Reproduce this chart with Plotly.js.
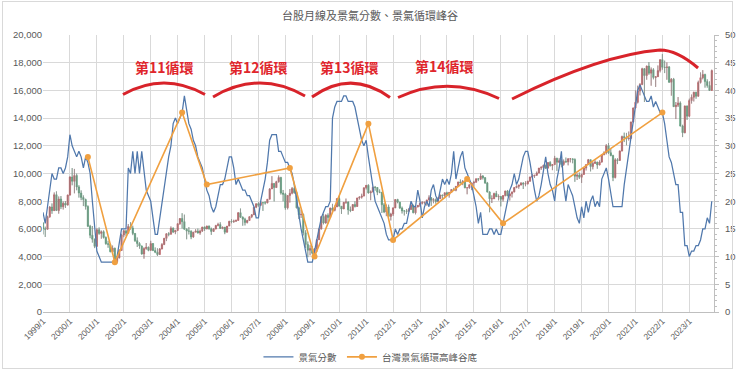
<!DOCTYPE html>
<html><head><meta charset="utf-8">
<script src="https://cdn.plot.ly/plotly-3.0.1.min.js"></script>
<style>
html,body{margin:0;padding:0;background:#fff;}
#wrap{position:relative;width:740px;height:371px;}
#chart{width:740px;height:371px;}
#frame{position:absolute;left:2px;top:1px;width:729px;height:366px;border:1px solid #d9d9d9;pointer-events:none;}
</style>
</head><body><div id="wrap"><div id="chart"></div><div id="frame"></div></div>
<script>
// ---- categories (monthly, 1999/1 .. 2023/11) ----
const firstYear = 1999, monthCount = 299;
const months = [];
for (let i = 0; i < monthCount; i++) months.push((firstYear + Math.floor(i / 12)) + '/' + (i % 12 + 1));

const tickLabels = ['1999/1','2000/1','2001/1','2002/1','2003/1','2004/1','2005/1','2006/1','2007/1','2008/1','2009/1','2010/1','2011/1','2012/1','2013/1','2014/1','2015/1','2016/1','2017/1','2018/1','2019/1','2020/1','2021/1','2022/1','2023/1'];

// ---- TAIEX monthly OHLC ----
const taiexOpen = [
6420,5999,5975,6881,7581,7316,8467,7326,8157,7598,7854,7720,
8448,9744,9435,9854,9031,8588,8265,8114,7616,6185,5544,5256,
4739,5936,5674,5797,5381,4935,4883,4352,4610,3636,3903,4441,
5551,5871,5686,6167,6065,5675,5153,4941,4764,4191,4579,4680,
4452,4941,4432,4321,4148,4555,4872,5318,5650,5611,6045,5772,
5890,6375,6750,6522,5977,5840,5839,5420,5765,5845,5706,5844,
6140,5994,6207,6006,5819,5988,6241,6312,6033,6118,5764,6203,
6548,6532,6561,6613,7171,6846,6704,6455,6611,6883,7021,7567,
7823,7699,7901,7884,7875,8145,8883,9287,8982,9411,9711,8586,
8506,7521,8412,8572,8920,8619,7523,7024,7046,5719,4870,4460,
4591,4248,4557,5210,5993,6890,6432,6987,6826,7509,7340,7582,
8188,7640,7436,7920,7941,7374,7329,7761,7616,8238,8288,8373,
8973,9145,8600,8683,9007,8989,8653,8644,7741,7225,7588,6904,
7072,7517,8121,7933,7501,7301,7296,7270,7397,7715,7166,7581,
7700,7850,7897,7919,8094,8254,8062,8108,7977,8174,8450,8407,
8612,8462,8640,8849,8792,9075,9393,9315,9436,8966,8974,9187,
9307,9362,9622,9586,9820,9701,9323,8665,8174,8181,8554,8320,
8338,8145,8411,8744,8377,8535,8666,8984,9069,9167,9290,9240,
9254,9448,9750,9812,9872,10041,10395,10427,10586,10384,10794,10560,
10643,11104,10815,10919,10658,10875,10837,11057,11064,11006,9802,9888,
9727,9932,10389,10641,11000,10498,10730,10823,10618,10829,11358,11489,
11997,11495,11292,9708,10992,10942,11621,12665,12592,12516,12546,13723,
14733,15138,15953,16431,17567,17068,17755,17247,17491,16935,16987,17428,
18219,17674,17652,17693,16593,16808,14826,14930,15095,13425,12950,14880,
14138,15265,15504,15869,15579,16579,16916,17146,16635,16354,16001];
const taiexHigh = [
6490,6160,6950,7650,7840,8630,8710,8340,8370,7980,8010,8470,
9800,10393,10330,9990,9150,8780,8420,8180,7700,6290,6210,5300,
6050,6104,5880,5890,5450,5140,4930,4800,4640,4000,4530,5650,
5910,5900,6350,6484,6230,5700,5380,5040,4800,4670,4980,4720,
5140,4980,4660,4600,4620,4970,5350,5680,5760,6180,6110,5930,
6380,6780,7135,7030,6030,6130,5890,5780,5980,6020,5950,6140,
6160,6230,6240,6090,6060,6290,6440,6480,6170,6140,6210,6580,
6700,6660,6670,7200,7474,6900,6800,6650,6900,7060,7580,7830,
7920,8000,7910,8000,8150,8940,9807,9300,9470,9859,9760,8810,
8600,8430,8880,9020,9309,8700,7600,7400,7100,5900,5090,4820,
4750,4610,5270,6070,6890,7084,7050,7120,7530,7810,7680,8190,
8395,7650,7940,8190,7980,7610,7790,7990,8240,8360,8540,8980,
9150,9220,8770,9050,9100,9000,8850,8670,7870,7760,7750,7160,
7550,8150,8170,7950,7610,7340,7440,7510,7780,7740,7600,7720,
7880,8000,7960,8100,8420,8300,8220,8190,8290,8470,8470,8620,
8680,8660,8870,8970,9090,9400,9570,9530,9440,8990,9200,9330,
9470,9640,9660,10014,9880,9740,9390,8720,8420,8610,8740,8490,
8350,8420,8750,8810,8540,8700,9010,9140,9190,9380,9380,9440,
9470,9770,9970,9900,10140,10400,10530,10630,10640,10810,10890,10650,
11270,11130,11100,11080,11010,11150,11110,11090,11080,11090,10010,10070,
9990,10420,10650,11050,11000,10830,10950,10850,10950,11360,11600,12120,
12197,11800,11350,11100,11100,11660,12730,12950,12930,13030,13740,14760,
16000,16340,16520,17630,17600,17790,18040,17650,17600,17000,17800,18250,
18619,18150,18020,17760,16890,16900,15160,15520,15200,13520,14900,14900,
15400,15700,15900,15900,16700,17300,17463,17200,16800,16650,17500];
const taiexLow = [
5600,5420,5960,6800,7090,7300,7290,7100,7430,7400,7510,7690,
8400,9150,8570,8790,8260,8070,7650,7400,6130,5330,5010,4614,
4700,5580,5290,5310,4860,4640,4310,4290,3411,3520,3870,4440,
5400,5500,5690,5950,5550,5060,4690,4570,4140,3850,4500,4390,
4440,4400,4250,4044,4120,4520,4830,5120,5470,5600,5700,5620,
5880,6300,6030,5950,5250,5600,5260,5360,5760,5670,5580,5780,
5860,5980,5950,5570,5780,5980,6190,6010,5980,5620,5740,6200,
6410,6430,6500,6600,6800,6230,6250,6400,6600,6780,7000,7500,
7600,7680,7300,7760,7850,8140,8880,7987,8960,9340,8480,7990,
7384,7410,7900,8500,8540,7480,6710,6790,5530,4620,3955,4090,
4160,4170,4330,5200,5960,6330,6370,6390,6800,7230,7270,7580,
7640,7080,7430,7810,7032,7210,7310,7550,7600,8120,8190,8350,
8850,8550,8070,8640,8760,8440,8580,7150,7140,6920,6840,6609,
6940,7500,7850,7450,7110,6970,7080,7260,7390,7130,7050,7560,
7580,7770,7770,7680,8060,7660,7850,7820,7970,8170,8170,8210,
8400,8260,8600,8740,8720,9070,9300,9160,8940,8500,8900,8800,
9040,9350,9450,9540,9570,9250,8630,7203,7870,8150,8310,8060,
7627,7980,8350,8370,8050,8270,8640,8940,8900,9140,8880,9080,
9210,9400,9670,9680,9820,10010,10260,10280,10330,10380,10510,10240,
10630,10189,10750,10450,10560,10780,10590,10800,10740,9400,9530,9600,
9320,9930,10220,10630,10150,10300,10700,10340,10590,10780,11320,11380,
11410,11250,9450,9650,10680,10910,11600,12270,12040,12380,12500,13690,
14690,15060,15640,16380,15160,16770,17130,16340,16800,16250,16970,17300,
17500,17250,16770,16540,15620,14800,13930,14800,13400,12629,12900,13870,
14100,15050,15200,15400,15550,16500,16800,16200,16200,15960,16000];
const taiexClose = [
5999,5975,6881,7581,7316,8467,7326,8157,7598,7854,7720,8448,
9744,9435,9854,9031,8588,8265,8114,7616,6185,5544,5256,4739,
5936,5674,5797,5381,4935,4883,4352,4610,3636,3903,4441,5551,
5871,5686,6167,6065,5675,5153,4941,4764,4191,4579,4680,4452,
4941,4432,4321,4148,4555,4872,5318,5650,5611,6045,5772,5890,
6375,6750,6522,5977,5840,5839,5420,5765,5845,5706,5844,6140,
5994,6207,6006,5819,5988,6241,6312,6033,6118,5764,6203,6548,
6532,6561,6613,7171,6846,6704,6455,6611,6883,7021,7567,7823,
7699,7901,7884,7875,8145,8883,9287,8982,9411,9711,8586,8506,
7521,8412,8572,8920,8619,7523,7024,7046,5719,4870,4460,4591,
4248,4557,5210,5993,6890,6432,6987,6826,7509,7340,7582,8188,
7640,7436,7920,7941,7374,7329,7761,7616,8238,8288,8373,8973,
9145,8600,8683,9007,8989,8653,8644,7741,7225,7588,6904,7072,
7517,8121,7933,7501,7301,7296,7270,7397,7715,7166,7581,7700,
7850,7897,7919,8094,8254,8062,8108,7977,8174,8450,8407,8612,
8462,8640,8849,8792,9075,9393,9315,9436,8966,8974,9187,9307,
9362,9622,9586,9820,9701,9323,8665,8174,8181,8554,8320,8338,
8145,8411,8744,8377,8535,8666,8984,9069,9167,9290,9240,9254,
9448,9750,9812,9872,10041,10395,10427,10586,10384,10794,10560,10643,
11104,10815,10919,10658,10875,10837,11057,11064,11006,9802,9888,9727,
9932,10389,10641,11000,10498,10730,10823,10618,10829,11358,11489,11997,
11495,11292,9708,10992,10942,11621,12665,12592,12516,12546,13723,14733,
15138,15953,16431,17567,17068,17755,17247,17491,16935,16987,17428,18219,
17674,17652,17693,16593,16808,14826,14930,15095,13425,12950,14880,14138,
15265,15504,15869,15579,16579,16916,17146,16635,16354,16001,17434];

// ---- 景氣分數 (monthly monitoring score, right axis) ----
const businessScore = [
18,16,19,22,25,24,24,26,26,25,26,28,
32,30,29,28,29,28,26,28,27,25,20,15,
11,10,9,9,9,9,9,9,9,10,13,15,
15,15,26,25,29,25,29,25,29,25,22,21,
20,17,14,14,17,20,23,25,28,30,34,35,
34,35,36,39,36,34,33,31,30,28,27,26,
24,22,21,19,18,19,21,23,23,24,26,28,
28,26,23,24,23,22,22,21,21,20,19,17,
17,20,22,24,27,31,32,32,32,29,29,28,
27,27,26,25,23,20,17,15,13,11,9,9,
9,11,13,15,17,18,19,19,20,35,37,38,
38,38,39,39,38,38,38,37,35,33,31,30,
31,28,25,22,20,19,18,17,16,14,13,13,
13,15,14,15,15,16,16,18,20,19,19,22,
20,17,19,20,19,22,23,21,20,22,24,23,
24,23,25,29,24,26,28,29,26,25,24,23,
21,19,16,18,14,14,14,15,15,14,15,14,
14,16,18,20,22,23,25,23,24,26,28,29,
29,27,24,22,20,21,23,26,28,25,23,22,
20,24,26,29,23,20,23,22,21,19,17,16,
19,17,20,18,20,21,19,20,19,24,25,26,
24,21,19,19,19,19,19,23,26,28,31,34,
37,40,41,40,39,38,38,39,37,38,37,36,
36,34,31,28,27,25,23,23,18,18,12,12,
10,11,11,12,12,13,15,15,17,16,20];

// ---- 台灣景氣循環高峰谷底 ----
const cycleDates = ['2000/9','2001/9','2004/3','2005/2','2008/3','2009/2','2011/2','2012/1','2014/10','2016/2','2022/1'];
const cycleScores = [28, 9, 36, 23, 26, 10, 34, 13, 24, 16, 36];

const cycleLabels = ['第11循環','第12循環','第13循環','第14循環'];

// ---- build traces ----
const wickX = [], wickY = [];
for (let i = 0; i < months.length; i++) {
  wickX.push(months[i], months[i], null);
  wickY.push(taiexLow[i], taiexHigh[i], null);
}
const CJK = '"Noto Sans CJK TC", "Noto Sans", sans-serif';
const traces = [
  {type:'scatter', mode:'lines', x:wickX, y:wickY, line:{color:'#8f8f8f', width:0.8},
   showlegend:false, hoverinfo:'skip', connectgaps:false},
  {type:'candlestick', x:months, open:taiexOpen, high:taiexHigh, low:taiexLow, close:taiexClose,
   increasing:{fillcolor:'#C0444A', line:{color:'#C0444A', width:0.5}},
   decreasing:{fillcolor:'#3E9A6A', line:{color:'#3E9A6A', width:0.5}},
   whiskerwidth:0, showlegend:false, hoverinfo:'skip'},
  {type:'scatter', mode:'lines', name:'景氣分數', x:months, y:businessScore, yaxis:'y2',
   line:{color:'#5078AC', width:1.25}},
  {type:'scatter', mode:'lines+markers', name:'台灣景氣循環高峰谷底', x:cycleDates, y:cycleScores, yaxis:'y2',
   line:{color:'#F0A040', width:1.6}, marker:{color:'#F0A040', size:6}}
];

// decorations in paper coordinates (plot area: x 43..714, y 35..312 px)
function px(x){ return ((x - 43) / 671).toFixed(4); }
function py(y){ return ((312 - y) / 277).toFixed(4); }
function P(x,y){ return px(x) + ',' + py(y); }
const red = '#D8232A';
const arcs = [
  'M ' + P(123,94.5) + ' Q ' + P(164,71.5) + ' ' + P(205,94.5),
  'M ' + P(213,97) + ' Q ' + P(259,69.5) + ' ' + P(305,96),
  'M ' + P(312,97) + ' Q ' + P(351,69) + ' ' + P(390,97.5),
  'M ' + P(398,97.5) + ' Q ' + P(448,74.5) + ' ' + P(499,98.5),
  'M ' + P(512,99) + ' Q ' + P(600,55) + ' ' + P(660,50) + ' Q ' + P(677,50) + ' ' + P(698,68)
];
const shapes = arcs.map(p => ({type:'path', path:p, xref:'paper', yref:'paper',
  line:{color:red, width:3}, layer:'above'}));
const labelPos = [[165,67.5],[259,67.5],[350,67.5],[445,66]];
const annotations = cycleLabels.map((t,i) => ({text:'<b>'+t+'</b>', xref:'paper', yref:'paper',
  x: +px(labelPos[i][0]), y: +py(labelPos[i][1]), xanchor:'center', yanchor:'middle', showarrow:false,
  font:{family:CJK, size:14, color:'#E0262C'}}));

const layout = {
  width:740, height:371,
  margin:{l:43, r:26, t:35, b:59, pad:0, autoexpand:false},
  paper_bgcolor:'#ffffff', plot_bgcolor:'#ffffff',
  font:{family:'"Liberation Sans", ' + CJK, color:'#595959', size:10},
  title:{text:'台股月線及景氣分數、景氣循環峰谷', font:{family:CJK, size:11, color:'#595959'},
         x:0.5, xanchor:'center', y:0.957, yanchor:'middle'},
  showlegend:true,
  boxgap:0.15,
  legend:{orientation:'h', x:0.488, xanchor:'center', y:-0.162, yanchor:'middle',
          font:{family:CJK, size:9.5, color:'#595959'}, itemwidth:30, bgcolor:'rgba(0,0,0,0)'},
  xaxis:{type:'category', categoryorder:'array', categoryarray:months, range:[0, 299],
         tickmode:'array', tickvals:tickLabels, ticktext:tickLabels, tickangle:-45, automargin:false,
         tickfont:{size:8.5, color:'#595959'}, showgrid:true, gridcolor:'#d9d9d9', gridwidth:1,
         showline:true, linecolor:'#bfbfbf', ticks:'', rangeslider:{visible:false}, fixedrange:true},
  yaxis:{range:[0,20000], dtick:2000, tickformat:',', showgrid:true, gridcolor:'#d9d9d9', automargin:false,
         zeroline:false, showline:false, tickfont:{size:9.5, color:'#595959'}, fixedrange:true},
  yaxis2:{overlaying:'y', side:'right', range:[0,50], dtick:5, showgrid:false, zeroline:false, automargin:false,
          showline:true, linecolor:'#bfbfbf', ticks:'outside', ticklen:4, tickcolor:'#bfbfbf',
          minor:{dtick:1, ticks:'outside', ticklen:2, tickcolor:'#bfbfbf'},
          ticklabelstandoff:4, tickfont:{size:9.5, color:'#595959'}, fixedrange:true},
  shapes:shapes,
  annotations:annotations
};
Plotly.newPlot('chart', traces, layout, {displayModeBar:false, staticPlot:true});
</script></body></html>
